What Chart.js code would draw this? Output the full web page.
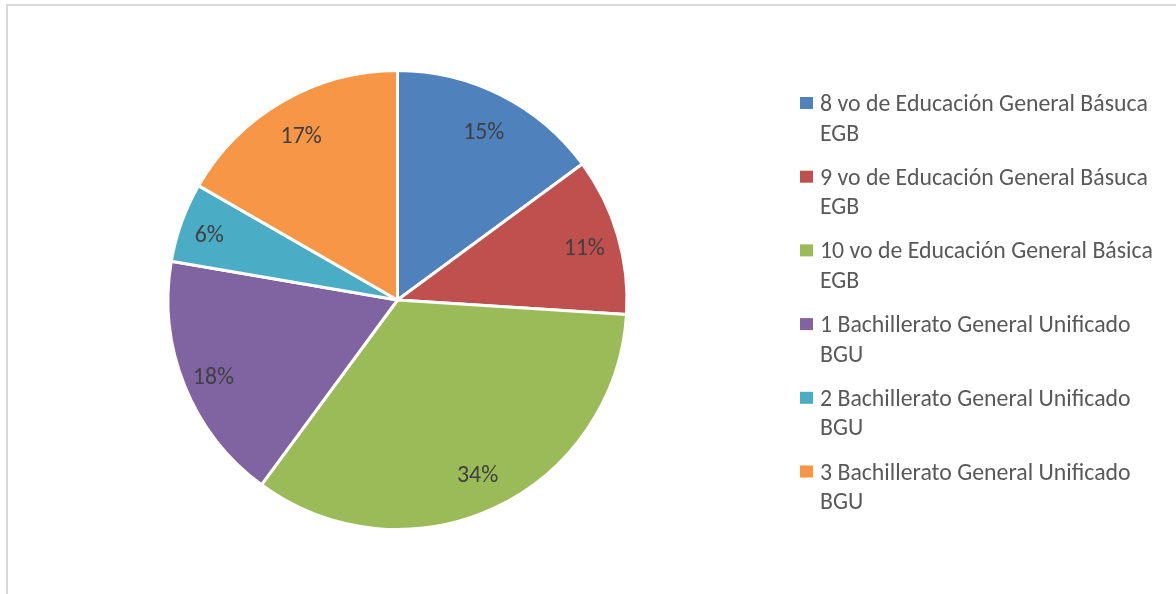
<!DOCTYPE html>
<html><head><meta charset="utf-8">
<script src="https://cdn.jsdelivr.net/npm/chart.js@4.4.1/dist/chart.umd.min.js"></script>
<style>
html,body{margin:0;padding:0;background:#fff;width:1176px;height:594px;overflow:hidden;}
#frame{position:absolute;left:6px;top:4px;width:1200px;height:620px;border-left:2px solid #d9d9d9;border-top:2px solid #d9d9d9;}
#wrap{position:absolute;left:0;top:0;width:1176px;height:594px;}
</style></head><body>
<div id="frame"></div>
<div id="wrap"><canvas id="c" width="1176" height="594"></canvas></div>
<script>
const categories = [
  "8 vo de Educación General Básuca EGB",
  "9 vo de Educación General Básuca EGB",
  "10 vo de Educación General Básica EGB",
  "1 Bachillerato General Unificado BGU",
  "2 Bachillerato General Unificado BGU",
  "3 Bachillerato General Unificado BGU"
];
const values = [14.9, 11.1, 34.1, 17.6, 5.6, 16.7];
const colors = ["#4F81BD", "#C0504D", "#9BBB59", "#8064A2", "#4BACC6", "#F79646"];

// style: radial position of each data label (fraction of radius)
const labelRadius = [0.833, 0.848, 0.825, 0.865, 0.872, 0.838];

const FONT_FAMILY = '"Carlito", Lato, "Open Sans", sans-serif';
let fontSize = null;
function getFontSize(ctx) {
  if (fontSize) return fontSize;
  ctx.save();
  ctx.font = '20px ' + FONT_FAMILY;
  const w = ctx.measureText("8 vo de Educación General Básuca").width;
  ctx.restore();
  fontSize = Math.round(20 * 328 / w * 10) / 10;
  return fontSize;
}

const labelsPlugin = {
  id: 'pieLabels',
  afterDatasetsDraw(chart) {
    const ctx = chart.ctx;
    const fs = getFontSize(ctx);
    const meta = chart.getDatasetMeta(0);
    const total = values.reduce((a, b) => a + b, 0);
    ctx.save();
    ctx.font = fs + 'px ' + FONT_FAMILY;
    ctx.fillStyle = '#404040';
    ctx.textAlign = 'center';
    ctx.textBaseline = 'middle';
    meta.data.forEach((arc, i) => {
      const p = arc.getProps(['x', 'y', 'startAngle', 'endAngle', 'outerRadius'], true);
      const mid = (p.startAngle + p.endAngle) / 2;
      const r = p.outerRadius * labelRadius[i];
      const txt = Math.round(values[i] / total * 100) + '%';
      ctx.fillText(txt, p.x + Math.cos(mid) * r, p.y + Math.sin(mid) * r + 4);
    });
    ctx.restore();
  },
  afterDraw(chart) {
    const ctx = chart.ctx;
    const fs = getFontSize(ctx);
    ctx.save();
    ctx.font = fs + 'px ' + FONT_FAMILY;
    ctx.textAlign = 'left';
    ctx.textBaseline = 'alphabetic';
    categories.forEach((label, i) => {
      const words = label.split(' ');
      const line2 = words.pop();
      const line1 = words.join(' ');
      const base = 111 + i * 73.7;
      ctx.fillStyle = colors[i];
      ctx.fillRect(800, base - 14, 13, 12);
      ctx.fillStyle = '#595959';
      ctx.fillText(line1, 820, base);
      ctx.fillText(line2, 820, base + 29.5);
    });
    ctx.restore();
  }
};

new Chart(document.getElementById('c'), {
  type: 'pie',
  data: {
    labels: categories,
    datasets: [{
      data: values,
      backgroundColor: colors,
      borderColor: '#ffffff',
      borderWidth: 3
    }]
  },
  options: {
    responsive: false,
    animation: false,
    layout: { padding: { left: 166, right: 547, top: 69, bottom: 63 } },
    plugins: {
      legend: { display: false },
      tooltip: { enabled: false }
    }
  },
  plugins: [labelsPlugin]
});
</script>
</body></html>
